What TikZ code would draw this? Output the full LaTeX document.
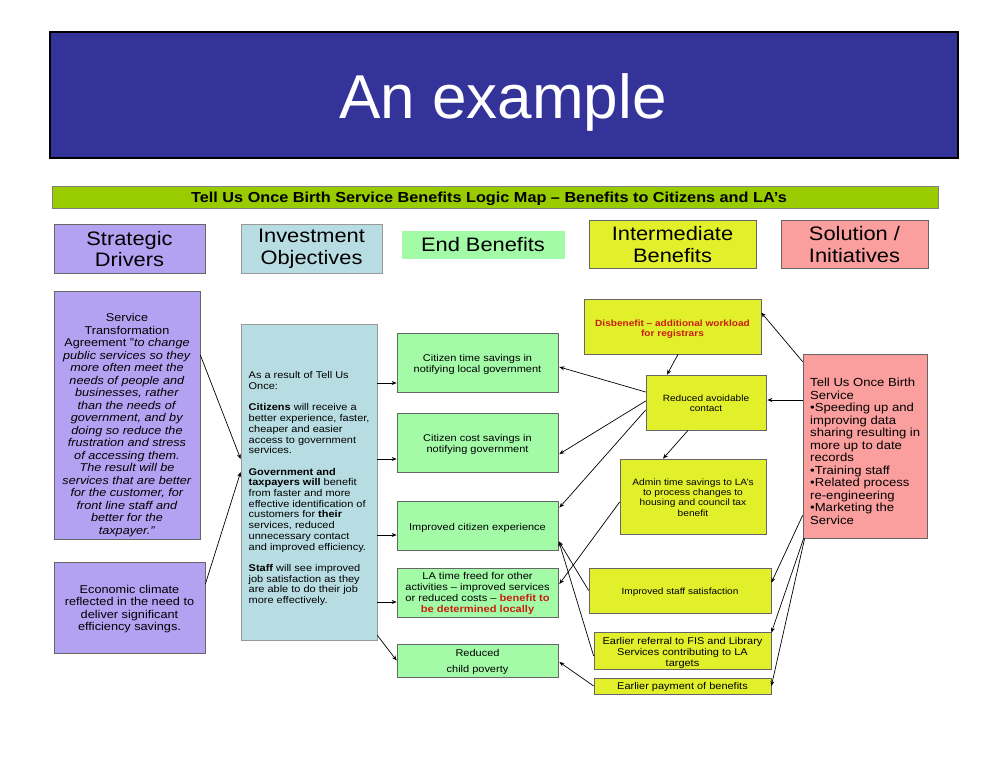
\documentclass[tikz,border=0pt]{standalone}
\usepackage{fontspec}
\setmainfont[FakeStretch=1.12]{Liberation Sans}
\newfontfamily\plainfont{Liberation Sans}
\usetikzlibrary{arrows.meta}
\definecolor{cpurple}{HTML}{B3A2F2}
\definecolor{cblue}{HTML}{B7DDE3}
\definecolor{cgreen}{HTML}{A3FBA8}
\definecolor{cyellow}{HTML}{E2F02C}
\definecolor{cpink}{HTML}{FA9E9E}
\definecolor{cnavy}{HTML}{333399}
\definecolor{cband}{HTML}{99CC00}
\definecolor{cred}{HTML}{C81E10}
\newcommand{\fsz}[2]{\fontsize{#1pt}{#2pt}\selectfont}
% \bx[text offset]{name}{box style}{font}{x1}{y1}{x2}{y2}{text}
\newcommand{\bx}[9][1.5]{%
 \pgfmathsetmacro{\bcx}{(#5+#7)/2}\pgfmathsetmacro{\bcy}{(#6+#8)/2}%
 \pgfmathsetmacro{\bty}{(#6+#8)/2+#1}%
 \pgfmathsetmacro{\bw}{#7-#5}\pgfmathsetmacro{\bh}{#8-#6}%
 \node[#3,minimum width=\bw pt,minimum height=\bh pt] (#2) at (\bcx,\bcy) {};%
 \node[boxtext,font=#4] (#2t) at (\bcx,\bty) {#9};}
\tikzset{
 boxb/.style={draw=black!60,line width=0.7pt,inner sep=0pt},
 boxtext/.style={inner sep=0pt,align=center,text=black},
 purplebox/.style={boxb,fill=cpurple},
 bluebox/.style={boxb,fill=cblue,draw=black!40},
 greenbox/.style={boxb,fill=cgreen},
 yellowbox/.style={boxb,fill=cyellow},
 pinkbox/.style={boxb,fill=cpink},
 conn/.style={draw=black,line width=0.7pt,-{Stealth[length=5pt,width=4pt]}},
}
\newcommand{\hf}{\fsz{19.5}{21.5}}
\begin{document}
\begin{tikzpicture}[x=1pt,y=-1pt]
\useasboundingbox (0,0) rectangle (1008,756);
\fill[white] (0,0) rectangle (1008,756);
% title
\bx[0]{title}{draw=black,line width=1.2pt,fill=cnavy,inner sep=0pt}{\normalsize}{50}{32}{958}{158}{}
\node[text=white,inner sep=0pt,font=\plainfont\fsz{62}{66}] (titletext) at (503,102) {An example};
\bx[0]{band}{draw=black!50,line width=0.5pt,fill=cband,inner sep=0pt}{\normalsize}{52}{186}{938}{208}{}
\node[inner sep=0pt,font=\fsz{14.5}{15}\bfseries] (bandtext) at (489,198.5) {Tell Us Once Birth Service Benefits Logic Map – Benefits to Citizens and LA’s};
% headers
\bx[0.5]{h1}{purplebox}{\hf}{54}{224}{205}{273}{Strategic\\Drivers}
\bx[0.5]{h2}{bluebox}{\hf}{241}{224}{382}{273}{Investment\\Objectives}
\bx[0.5]{h3}{greenbox,draw=cgreen}{\hf}{402}{231}{564}{258}{End Benefits}
\bx[0.5]{h4}{yellowbox}{\hf}{589}{220}{756}{268}{Intermediate\\Benefits}
\bx[0.5]{h5}{pinkbox}{\hf}{781}{220}{928}{268}{Solution /\\Initiatives}
% drivers
\bx[10]{d1}{purplebox}{\fsz{11.3}{12.5}}{54}{291}{200}{539}{Service\\Transformation\\Agreement "\textit{to change}\\\textit{public services so they}\\\textit{more often meet the}\\\textit{needs of people and}\\\textit{businesses, rather}\\\textit{than the needs of}\\\textit{government, and by}\\\textit{doing so reduce the}\\\textit{frustration and stress}\\\textit{of accessing them.}\\\textit{The result will be}\\\textit{services that are better}\\\textit{for the customer, for}\\\textit{front line staff and}\\\textit{better for the}\\\textit{taxpayer."}}
\bx[1.5]{d2}{purplebox}{\fsz{11.35}{12.5}}{54}{562}{205}{653}{Economic climate\\reflected in the need to\\deliver significant\\efficiency savings.}
% objectives
\bx[0]{obj}{bluebox}{\normalsize}{241}{324}{377}{640}{}
\node[anchor=north west,inner sep=0pt,align=left,text=black,font=\fsz{9.8}{10.7}] (objtext) at (248.5,371.5) {As a result of Tell Us\\Once:\\[10.7pt]\textbf{Citizens} will receive a\\better experience, faster,\\cheaper and easier\\access to government\\services.\\[10.7pt]\textbf{Government and}\\\textbf{taxpayers will} benefit\\from faster and more\\effective identification of\\customers for \textbf{their}\\services, reduced\\unnecessary contact\\and improved efficiency.\\[10.7pt]\textbf{Staff} will see improved\\job satisfaction as they\\are able to do their job\\more effectively.};
% end benefits
\bx[2]{g1}{greenbox}{\fsz{9.8}{11}}{397}{333}{558}{392}{Citizen time savings in\\notifying local government}
\bx[2]{g2}{greenbox}{\fsz{9.8}{11}}{397}{413}{558}{472}{Citizen cost savings in\\notifying government}
\bx[2]{g3}{greenbox}{\fsz{9.8}{11}}{397}{501}{558}{550}{Improved citizen experience}
\bx[1]{g4}{greenbox}{\fsz{9.9}{11}}{397}{568}{558}{617}{LA time freed for other\\activities – improved services\\or reduced costs – \textcolor{cred}{\textbf{benefit to}}\\\textcolor{cred}{\textbf{be determined locally}}}
\bx[1.5]{g5}{greenbox}{\fsz{9.8}{16.5}}{397}{644}{558}{677}{Reduced\\child poverty}
% intermediate
\bx[3]{y1}{yellowbox}{\fsz{9}{10}}{584}{299}{761}{354}{\textcolor{cred}{\textbf{Disbenefit – additional workload}}\\\textcolor{cred}{\textbf{for registrars}}}
\bx[1]{y2}{yellowbox}{\fsz{9}{10}}{646}{375}{766}{430}{Reduced avoidable\\contact}
\bx[1]{y3}{yellowbox}{\fsz{9.1}{10.3}}{620}{459}{766}{534}{Admin time savings to LA’s\\to process changes to\\housing and council tax\\benefit}
\bx[2]{y4}{yellowbox}{\fsz{9}{10}}{589}{568}{771}{613}{Improved staff satisfaction}
\bx[2]{y5}{yellowbox}{\fsz{9.8}{11}}{594}{632}{771}{669}{Earlier referral to FIS and Library\\Services contributing to LA\\targets}
\bx[1]{y6}{yellowbox}{\fsz{9.8}{11}}{594}{678}{771}{694}{Earlier payment of benefits}
% solution
\bx[0]{sol}{pinkbox}{\normalsize}{803}{354}{927}{538}{}
\node[anchor=north west,inner sep=0pt,align=left,text=black,font=\fsz{11.7}{12.5}] (soltext) at (810,378) {Tell Us Once Birth\\Service\\•Speeding up and\\improving data\\sharing resulting in\\more up to date\\records\\•Training staff\\•Related process\\re-engineering\\•Marketing the\\Service};
% driver connectors
\draw[conn] ([yshift=60pt]d1.east) -- ([yshift=23pt]obj.west);
\draw[conn] ([yshift=23.5pt]d2.east) -- ([yshift=10pt]obj.west);
% objectives to benefits
\draw[conn] ([yshift=99pt]obj.east) -- ([yshift=-20.5pt]g1.west);
\draw[conn] ([yshift=23pt]obj.east) -- ([yshift=-16.5pt]g2.west);
\draw[conn] ([yshift=-53pt]obj.east) -- ([yshift=-9.5pt]g3.west);
\draw[conn] ([yshift=-120pt]obj.east) -- ([yshift=-9.5pt]g4.west);
\draw[conn] ([yshift=5pt]obj.south east) -- (g5.west);
% solution
\draw[conn] ([yshift=-8pt]sol.north west) -- ([yshift=-14pt]y1.north east);
\draw[conn] ([yshift=46pt]sol.west) -- ([xshift=1pt,yshift=2.5pt]y2.east);
\draw[conn] ([yshift=23pt]sol.south west) -- ([yshift=-15pt]y4.north east);
\draw[conn] ([xshift=1pt]sol.south west) -- ([yshift=-1pt]y5.north east);
\draw[conn] ([xshift=2pt]sol.south west) -- (y6.east);
% intermediate chain
\draw[conn] ([xshift=5.5pt]y1.south) -- ([xshift=-39pt]y2.north);
\draw[conn] ([xshift=-18pt]y2.south) -- ([xshift=-30pt]y3.north);
% intermediate to end
\draw[conn] ([yshift=10.5pt]y2.west) -- ([xshift=1pt,yshift=-4.5pt]g1.east);
\draw[conn] ([yshift=1.5pt]y2.west) -- ([xshift=1pt,yshift=-11.5pt]g2.east);
\draw[conn] ([yshift=-7.5pt]y2.west) -- ([xshift=1pt,yshift=-7pt]g3.north east);
\draw[conn] ([yshift=-5.5pt]y3.west) -- ([xshift=1pt,yshift=8.5pt]g4.east);
\draw[conn] (y4.west) -- ([xshift=0.5pt,yshift=9pt]g3.south east);
\draw[conn] ([yshift=-5.5pt]y5.west) -- ([xshift=0.5pt,yshift=9pt]g3.south east);
\draw[conn] (y6.west) -- ([xshift=1pt,yshift=-1.5pt]g5.east);
\end{tikzpicture}
\end{document}
